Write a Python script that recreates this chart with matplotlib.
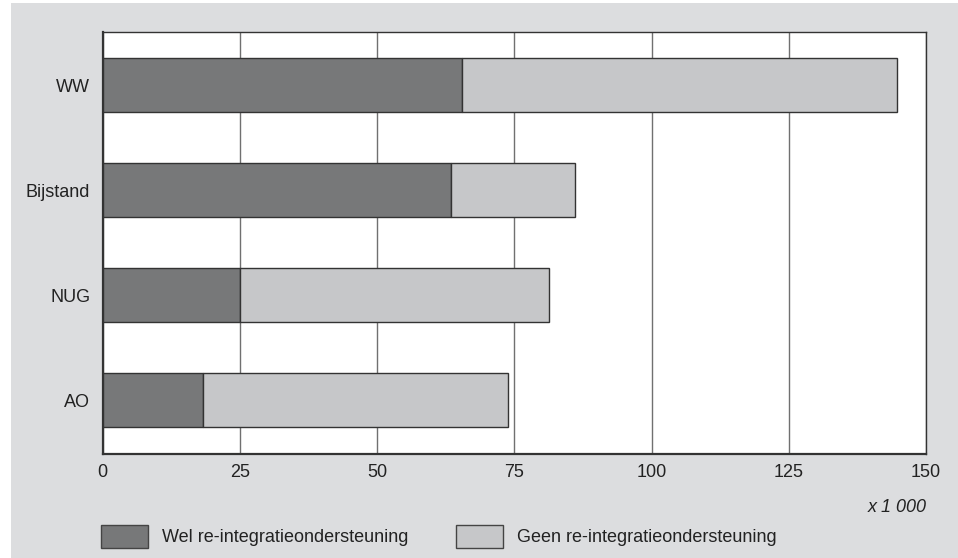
import matplotlib
matplotlib.use("Agg")
import matplotlib.pyplot as plt
from matplotlib.patches import Rectangle

categories = ["WW", "Bijstand", "NUG", "AO"]
wel = [65.4, 63.5, 25.1, 18.3]
totaal = [144.8, 86.0, 81.3, 73.9]
geen = [t - w for t, w in zip(totaal, wel)]
xticks = [0, 25, 50, 75, 100, 125, 150]
legend_labels = ["Wel re-integratieondersteuning", "Geen re-integratieondersteuning"]

DARK = "#777879"
LIGHT = "#c6c7c9"
BG = "#dcdddf"
EDGE = "#333333"

plt.rcParams["font.family"] = ["Liberation Sans", "DejaVu Sans"]

W, H = 958, 558
fig = plt.figure(figsize=(W / 100, H / 100), dpi=100)
fig.patch.set_facecolor("white")
fig.patches.append(Rectangle((11 / W, 0), 1 - 11 / W, 1 - 3.3 / H,
                             transform=fig.transFigure, facecolor=BG,
                             edgecolor="none", zorder=-10))

ax = fig.add_axes([102.7 / W, 1 - 454 / H, (926 - 102.7) / W, (454 - 32.3) / H])
ax.set_facecolor("white")
y = list(range(len(categories)))
ax.barh(y, wel, height=0.515, color=DARK, edgecolor=EDGE, linewidth=1, zorder=3)
ax.barh(y, geen, left=wel, height=0.515, color=LIGHT, edgecolor=EDGE, linewidth=1, zorder=3)
ax.set_ylim(3.51, -0.505)
ax.set_xlim(0, 150)
ax.set_xticks(xticks)
ax.set_xticklabels([str(v) for v in xticks], fontsize=13, color="#222222")
ax.set_yticks(y)
ax.set_yticklabels(categories, fontsize=13, color="#222222")
ax.tick_params(axis="both", length=0)
ax.tick_params(axis="x", pad=7)
ax.tick_params(axis="y", pad=9)
ax.grid(axis="x", color="#707070", linewidth=1, zorder=1)
ax.set_axisbelow(True)
for s in ["top", "right"]:
    ax.spines[s].set_color("#333333")
    ax.spines[s].set_linewidth(1)
for s in ["left", "bottom"]:
    ax.spines[s].set_color("#333333")
    ax.spines[s].set_linewidth(1.6)

fig.text(927 / W, 1 - 508 / H, "x 1 000", fontsize=13, style="italic",
         ha="right", va="center", color="#222222")

for x0, col, lab, tx in [(101, DARK, legend_labels[0], 162), (456, LIGHT, legend_labels[1], 517)]:
    fig.patches.append(Rectangle((x0 / W, 1 - 548 / H), 47 / W, 23 / H,
                                 transform=fig.transFigure, facecolor=col,
                                 edgecolor="#444444", linewidth=1))
    fig.text(tx / W, 1 - 538 / H, lab, fontsize=13, ha="left", va="center", color="#222222")

fig.savefig("out.png", dpi=100)
